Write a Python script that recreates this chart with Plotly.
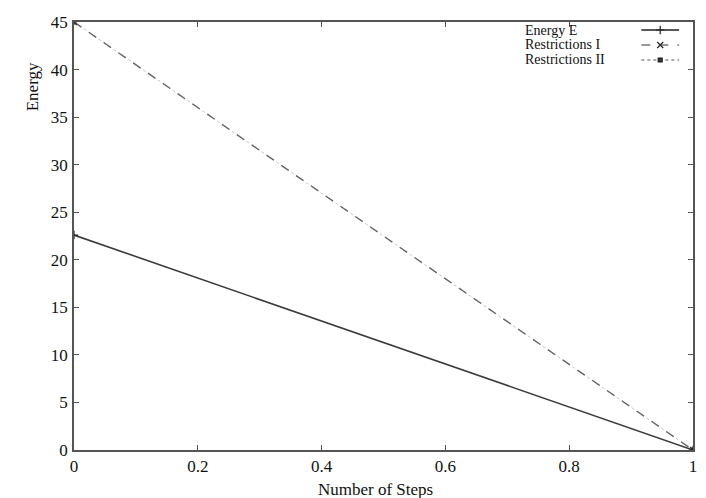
import plotly.graph_objects as go

steps = [0, 1]
energy_e = [22.6, 0]
restrictions_1 = [45, 0]
restrictions_2 = [45, 0]
series_names = ["Energy E", "Restrictions I", "Restrictions II"]

FONT = "Liberation Serif, Times New Roman, serif"
L, R, T, B = 74, 9, 22, 48
W, H = 706, 498
pw, ph = W - L - R, H - T - B

def px(x):
    return (x - L) / pw

def py(y):
    return (H - B - y) / ph

fig = go.Figure()
fig.add_trace(go.Scatter(x=steps, y=restrictions_2, mode="lines+markers", name=series_names[2],
                         line=dict(color="#c4c4c4", width=1.0, dash="dot"),
                         marker=dict(symbol="square", size=5, color="#222")))
fig.add_trace(go.Scatter(x=steps, y=restrictions_1, mode="lines+markers", name=series_names[1],
                         line=dict(color="#666", width=1.4, dash="dash"),
                         marker=dict(symbol="x-thin", size=6, line=dict(color="#333", width=1.2))))
fig.add_trace(go.Scatter(x=steps, y=energy_e, mode="lines+markers", name=series_names[0],
                         line=dict(color="#3a3a3a", width=1.6),
                         marker=dict(symbol="cross-thin", size=6, line=dict(color="#222", width=1.2))))

axis_common = dict(showline=True, mirror="ticks", linecolor="#555", linewidth=1.8,
                   ticks="inside", ticklen=5, tickcolor="#555", tickwidth=1.2,
                   showgrid=False, zeroline=False,
                   tickfont=dict(family=FONT, size=17, color="#111"))
fig.update_xaxes(range=[0, 1], tickvals=[0, 0.2, 0.4, 0.6, 0.8, 1],
                 ticktext=["0", "0.2", "0.4", "0.6", "0.8", "1"], ticklabelstandoff=0, **axis_common)
fig.update_yaxes(range=[0, 45], tickvals=list(range(0, 46, 5)), ticklabelstandoff=1, **axis_common)

# Legend (text left, sample on right), drawn manually like the original
leg_y = [30, 45, 60]
styles = [dict(color="#222", width=1.3, dash="solid"),
          dict(color="#333", width=1.2, dash="dash"),
          dict(color="#555", width=1.2, dash="dot")]
symbols = ["cross-thin", "x-thin", "square"]
for name, yy, st, sym in zip(series_names, leg_y, styles, symbols):
    fig.add_annotation(x=px(527), y=py(yy), xref="paper", yref="paper", text=name,
                       showarrow=False, xanchor="left", yanchor="middle", borderpad=0,
                       font=dict(family=FONT, size=14, color="#111"))
    fig.add_shape(type="line", xref="paper", yref="paper", x0=px(645), x1=px(683),
                  y0=py(yy), y1=py(yy), line=st)
    fig.add_trace(go.Scatter(x=[px(664)], y=[py(yy)], xaxis="x2", yaxis="y2", mode="markers",
                             showlegend=False, hoverinfo="skip",
                             marker=dict(symbol=sym, size=6 if sym != "square" else 4, color="#222",
                                         line=dict(color="#222", width=1.2))))

fig.update_layout(xaxis2=dict(domain=[0, 1], range=[0, 1], visible=False, overlaying="x"),
                  yaxis2=dict(domain=[0, 1], range=[0, 1], visible=False, overlaying="y"))

fig.add_annotation(x=px(32), y=py(87), xref="paper", yref="paper", text="Energy",
                   textangle=-90, showarrow=False, xanchor="center", yanchor="middle",
                   font=dict(family=FONT, size=17, color="#111"))
fig.add_annotation(x=px(377), y=py(489), xref="paper", yref="paper", text="Number of Steps",
                   showarrow=False, xanchor="center", yanchor="middle",
                   font=dict(family=FONT, size=17, color="#111"))

fig.update_layout(width=W, height=H, margin=dict(l=L, r=R, t=T, b=B),
                  paper_bgcolor="white", plot_bgcolor="white", showlegend=False,
                  font=dict(family=FONT))
fig.write_html("out.html")
